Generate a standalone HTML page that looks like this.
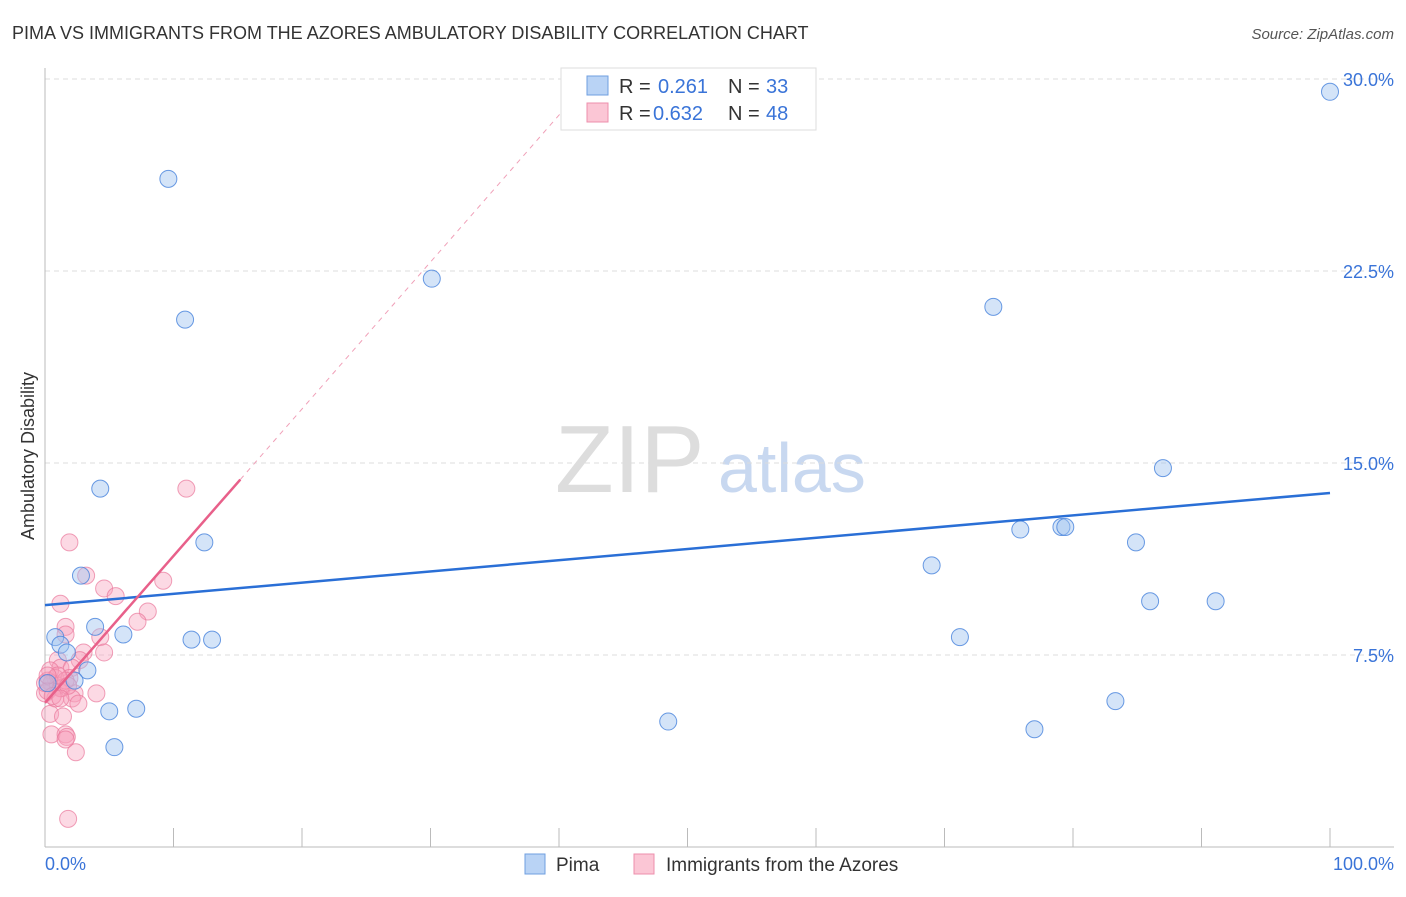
<!DOCTYPE html>
<html><head><meta charset="utf-8"><style>
body{margin:0;background:#fff;font-family:"Liberation Sans",sans-serif;}
svg text{font-family:"Liberation Sans",sans-serif;}
</style></head><body>
<svg id="c" width="1406" height="892">
<text x="12" y="39" font-size="18" fill="#333">PIMA VS IMMIGRANTS FROM THE AZORES AMBULATORY DISABILITY CORRELATION CHART</text>
<text x="1394" y="39" font-size="15" fill="#555" font-style="italic" text-anchor="end">Source: ZipAtlas.com</text>
<text x="34" y="456" font-size="18" fill="#333" text-anchor="middle" transform="rotate(-90 34 456)">Ambulatory Disability</text>
<text x="555" y="492" font-size="96" fill="#ddd" font-family="Liberation Serif">ZIP</text>
<text x="718" y="492" font-size="70" fill="#c8d8f0">atlas</text>
<g id="grid"></g><g id="axes"></g><g id="marks"></g>
<g>
<rect x="561" y="68" width="255" height="62" fill="#fff" stroke="#ddd"/>
<rect x="587" y="76" width="21" height="19" fill="#b9d3f5" stroke="#6f9fe0"/>
<rect x="587" y="103" width="21" height="19" fill="#fbc6d5" stroke="#ee8fac"/>
<text x="619" y="93" font-size="20" fill="#333">R = </text><text x="658" y="93" font-size="20" fill="#3a74d8">0.261</text>
<text x="728" y="93" font-size="20" fill="#333">N = </text><text x="766" y="93" font-size="20" fill="#3a74d8">33</text>
<text x="619" y="120" font-size="20" fill="#333">R = </text><text x="653" y="120" font-size="20" fill="#3a74d8">0.632</text>
<text x="728" y="120" font-size="20" fill="#333">N = </text><text x="766" y="120" font-size="20" fill="#3a74d8">48</text>
</g>
<g>
<rect x="525" y="854" width="20" height="20" fill="#b9d3f5" stroke="#6f9fe0"/>
<text x="556" y="871" font-size="19" fill="#333">Pima</text>
<rect x="634" y="854" width="20" height="20" fill="#fbc6d5" stroke="#ee8fac"/>
<text x="666" y="871" font-size="19" fill="#333">Immigrants from the Azores</text>
</g>
</svg>
<script>
const yTicks=[7.5,15,22.5,30];
const yTickLabels=["7.5%","15.0%","22.5%","30.0%"];
const xTickLabels=["0.0%","100.0%"];
const pimaX=[100,9.6,30.1,10.9,73.8,87,4.3,12.4,75.9,79.1,79.4,84.9,2.8,69,86,91.1,3.9,6.1,0.8,11.4,13,71.2,1.2,1.7,3.3,2.3,5,7.1,48.5,83.3,77,5.4,0.2];
const pimaY=[29.5,26.1,22.2,20.6,21.1,14.8,14,11.9,12.4,12.5,12.5,11.9,10.6,11,9.6,9.6,8.6,8.3,8.2,8.1,8.1,8.2,7.9,7.6,6.9,6.5,5.3,5.4,4.9,5.7,4.6,3.9,6.4];
const azX=[11,1.9,3.2,1.2,4.6,5.5,9.2,8,7.2,1.6,1.6,4.3,4.6,3,1,2.7,1.2,0.4,2.1,0.8,0.2,0.5,1,1.3,0,2.3,2.1,4,0.8,1.2,0.2,1.9,2.6,0.4,1.4,0.5,1.6,1.7,1.6,2.4,1.8,1.6,1,1.8,0,0.6,1.2,0.2];
const azY=[14,11.9,10.6,9.5,10.1,9.8,10.4,9.2,8.8,8.6,8.3,8.2,7.6,7.6,7.3,7.3,7,6.9,7,6.6,6.5,6.4,6.3,6.2,6,6,5.8,6,5.8,6.2,6.1,6.6,5.6,5.2,5.1,4.4,4.4,4.3,4.2,3.7,1.1,6.5,6.7,6.3,6.4,5.9,5.8,6.7];
const pimaTrend=[9.45,13.83];
const azTrend=[5.63,0.574];
const X=v=>45+v*12.85, Y=v=>847-v*25.6;
const NS="http://www.w3.org/2000/svg";
function mk(t,a,p){const e=document.createElementNS(NS,t);for(const k in a)e.setAttribute(k,a[k]);p.appendChild(e);return e;}
const grid=document.getElementById('grid'),axes=document.getElementById('axes'),marks=document.getElementById('marks');
yTicks.forEach((t,i)=>{
 const l=mk('line',{x1:45,x2:1394,y1:Y(t),y2:Y(t),stroke:'#ddd','stroke-dasharray':'5,4'},grid);
 
 
 const tx=mk('text',{x:1394,y:Y(t)+7,'font-size':18,fill:'#3a74d8','text-anchor':'end'},axes);
 tx.textContent=yTickLabels[i];
 
 
});
const ya=mk('line',{x1:45,x2:45,y1:68,y2:847,stroke:'#bbb'},axes);


const xa=mk('line',{x1:45,x2:1394,y1:847,y2:847,stroke:'#bbb'},axes);


for(let i=0;i<=10;i++){const t=mk('line',{x1:X(i*10),x2:X(i*10),y1:828,y2:847,stroke:'#bbb'},axes);
 
 }
[[0,'start',45],[100,'end',1394]].forEach((d,i)=>{const t=mk('text',{x:d[2],y:870,'font-size':18,fill:'#3a74d8','text-anchor':d[1]},axes);t.textContent=xTickLabels[i];
 
 });
azX.forEach((x,i)=>{const c=mk('circle',{cx:X(x),cy:Y(azY[i]),r:8.5,fill:'rgba(247,160,187,0.4)',stroke:'rgba(234,120,155,0.7)','stroke-width':1},marks);
 
 });
pimaX.forEach((x,i)=>{const c=mk('circle',{cx:X(x),cy:Y(pimaY[i]),r:8.5,fill:'rgba(160,195,240,0.45)',stroke:'rgba(70,130,220,0.8)','stroke-width':1},marks);
 
 });
const pt=mk('line',{x1:X(0),y1:Y(pimaTrend[0]),x2:X(100),y2:Y(pimaTrend[1]),stroke:'#2a6fd6','stroke-width':2.5},marks);


const xe=(30-azTrend[0])/azTrend[1];
const ad=mk('line',{x1:X(15.2),y1:Y(azTrend[0]+azTrend[1]*15.2),x2:X(xe),y2:Y(30),stroke:'#f0a0b8','stroke-width':1,'stroke-dasharray':'5,5'},marks);


const at=mk('line',{x1:X(0),y1:Y(azTrend[0]),x2:X(15.2),y2:Y(azTrend[0]+azTrend[1]*15.2),stroke:'#e8608a','stroke-width':2.5},marks);


</script>
</body></html>
